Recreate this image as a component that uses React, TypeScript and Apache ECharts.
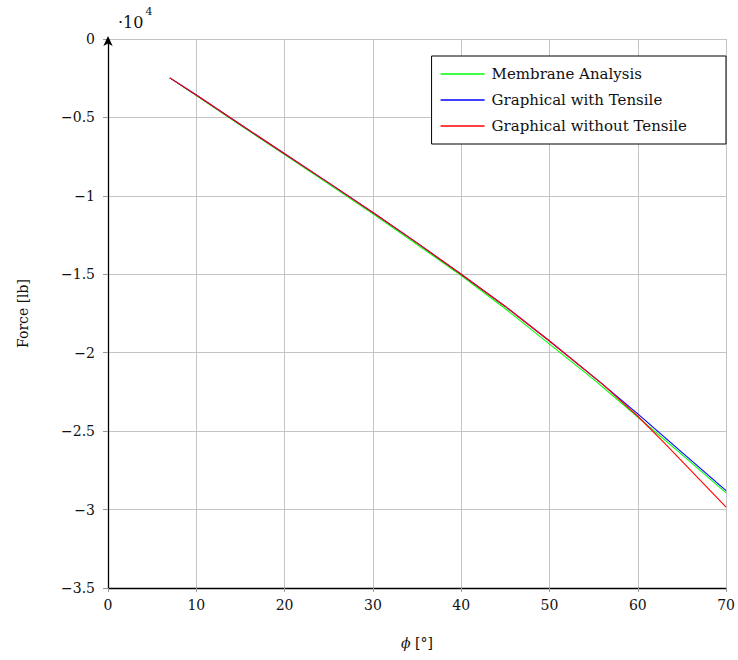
import React, { useEffect, useRef } from "react";
import * as echarts from "echarts";

const membranePhi = [7, 10, 15, 20, 25, 30, 35, 40, 45, 50, 55, 60, 65, 70];
const membraneForce = [-2480, -3600, -5500, -7370, -9250, -11150, -13100, -15080, -17200, -19450, -21700, -24100, -26500, -28940];

const tensilePhi = [7, 10, 15, 20, 25, 30, 35, 40, 45, 50, 56, 60, 65, 70];
const tensileForce = [-2480, -3570, -5450, -7320, -9170, -11060, -13000, -15000, -17050, -19250, -22000, -23900, -26350, -28790];

const noTensilePhi = [7, 10, 15, 20, 25, 30, 35, 40, 45, 50, 56, 60, 63, 70];
const noTensileForce = [-2480, -3570, -5450, -7320, -9170, -11060, -13000, -15000, -17050, -19250, -22000, -24050, -25750, -29850];

const seriesNames = ["Membrane Analysis", "Graphical with Tensile", "Graphical without Tensile"];
const seriesColors = ["#00ff00", "#0000ff", "#ff0000"];

const xTicks = { min: 0, max: 70, interval: 10 };
const yTicks = { min: -35000, max: 0, interval: 5000 };

const FONT = "DejaVu Serif";

function pairs(xs: number[], ys: number[]) {
  return xs.map((x, i) => [x, ys[i]]);
}

function fmtY(v: number) {
  const s = String(Math.round((v / 10000) * 100) / 100);
  return s.replace("-", "\u2212");
}

export default function App() {
  const ref = useRef<HTMLDivElement>(null);
  useEffect(() => {
    if (!ref.current) return;
    const chart = echarts.init(ref.current, null, { renderer: "svg" });
    const gridColor = "#c4c4c4";
    chart.setOption({
      animation: false,
      backgroundColor: "#ffffff",
      textStyle: { fontFamily: FONT },
      grid: { left: 108, right: 10, top: 39, bottom: 72, containLabel: false },
      legend: {
        orient: "vertical",
        right: 12,
        top: 56,
        data: seriesNames,
        icon: "rect",
        backgroundColor: "#ffffff",
        borderColor: "#000000",
        borderWidth: 1,
        borderRadius: 0,
        padding: [9, 39, 9, 9],
        itemWidth: 44,
        itemHeight: 1.3,
        itemGap: 8,
        textStyle: { fontFamily: FONT, fontSize: 15, color: "#111", padding: [0, 0, 0, 2], lineHeight: 18 },
      },
      xAxis: {
        type: "value",
        min: xTicks.min,
        max: xTicks.max,
        interval: xTicks.interval,
        name: "{i|\u03D5} [\u00B0]",
        nameLocation: "middle",
        nameGap: 48,
        nameTextStyle: {
          fontFamily: FONT,
          fontSize: 14,
          color: "#111",
          rich: { i: { fontFamily: FONT, fontSize: 14, fontStyle: "italic", color: "#111" } },
        },
        axisLine: { show: true, onZero: false, lineStyle: { color: "#000", width: 1.3 } },
        axisTick: { show: true, length: 4, lineStyle: { color: "#999" } },
        axisLabel: { fontFamily: FONT, fontSize: 14, color: "#111", margin: 10 },
        splitLine: { show: true, lineStyle: { color: gridColor, width: 1 } },
      },
      yAxis: {
        type: "value",
        min: yTicks.min,
        max: yTicks.max,
        interval: yTicks.interval,
        name: "Force [lb]",
        nameLocation: "middle",
        nameGap: 78,
        nameTextStyle: { fontFamily: FONT, fontSize: 14, color: "#111" },
        axisLine: {
          show: true,
          onZero: false,
          symbol: ["none", "arrow"],
          symbolSize: [7, 10],
          symbolOffset: [0, 3],
          lineStyle: { color: "#000", width: 1.3 },
        },
        axisTick: { show: true, length: 5, lineStyle: { color: "#999" } },
        axisLabel: { fontFamily: FONT, fontSize: 14, color: "#111", margin: 13, formatter: fmtY },
        splitLine: { show: true, lineStyle: { color: gridColor, width: 1 } },
      },
      graphic: [
        {
          type: "text",
          left: 118,
          top: 6,
          style: {
            text: "{a|\u00B710}{b|4}",
            rich: {
              a: { fontFamily: FONT, fontSize: 16, fill: "#111", verticalAlign: "bottom", lineHeight: 24 },
              b: { fontFamily: FONT, fontSize: 11, fill: "#111", verticalAlign: "top", lineHeight: 24, padding: [0, 0, 7, 2] },
            },
          },
        },
      ],
      series: [
        {
          name: seriesNames[0],
          type: "line",
          data: pairs(membranePhi, membraneForce),
          symbol: "none",
          color: seriesColors[0],
          lineStyle: { width: 1.1, color: seriesColors[0] },
          z: 3,
        },
        {
          name: seriesNames[1],
          type: "line",
          data: pairs(tensilePhi, tensileForce),
          symbol: "none",
          color: seriesColors[1],
          lineStyle: { width: 1.1, color: seriesColors[1] },
          z: 4,
        },
        {
          name: seriesNames[2],
          type: "line",
          data: pairs(noTensilePhi, noTensileForce),
          symbol: "none",
          color: seriesColors[2],
          lineStyle: { width: 1.1, color: seriesColors[2] },
          z: 5,
        },
      ],
    });
    return () => chart.dispose();
  }, []);
  return <div ref={ref} style={{ width: 738, height: 660, position: "absolute", left: 0, top: 0 }} />;
}
